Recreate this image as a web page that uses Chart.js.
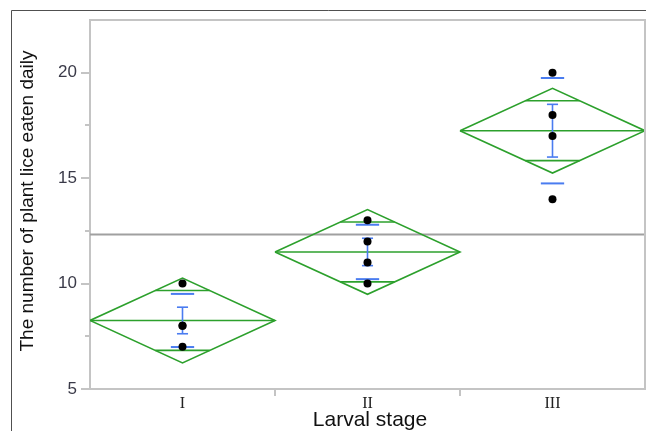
<!DOCTYPE html>
<html>
<head>
<meta charset="utf-8">
<script src="https://cdn.jsdelivr.net/npm/chart.js@4.4.1/dist/chart.umd.min.js"></script>
<style>
  html, body { margin: 0; padding: 0; background: #ffffff; }
  #wrap { width: 646px; height: 431px; position: relative; }
</style>
</head>
<body>
<div id="wrap"><canvas id="c" width="646" height="431"></canvas></div>
<script>
// ---- data ----
const categories = ['I', 'II', 'III'];
const stageI = [10, 8, 8, 7];
const stageII = [13, 12, 11, 10];
const stageIII = [20, 18, 17, 14];
const groupMeans = [8.25, 11.5, 17.25];
const ciHalfWidth = [2.01, 2.01, 2.01];      // means diamond half height
const overlapHalf = [1.42, 1.42, 1.42];      // overlap marks offset from mean
const stdDevs = [1.26, 1.29, 2.5];           // std dev lines
const stdErrs = [0.63, 0.65, 1.25];          // mean error bars
const grandMean = 12.33;
const yMajorTicks = [5, 10, 15, 20];
const yMinorTicks = [7.5, 12.5, 17.5];
const yMin = 5, yMax = 22.5;

const groups = [stageI, stageII, stageIII];
const GREEN = 'rgb(44,160,44)';
const BLUE = 'rgb(74,124,240)';
const GRAY = 'rgb(160,160,160)';
const AXIS = 'rgb(196,196,196)';

const datasets = [];
function seg(pts, color, width, order) {
  datasets.push({
    type: 'scatter',
    data: pts.map(p => ({ x: p[0], y: p[1] })),
    showLine: true, borderColor: color, borderWidth: width,
    pointRadius: 0, pointHoverRadius: 0, fill: false, tension: 0,
    order: order
  });
}

// grand mean line
seg([[0, grandMean], [3, grandMean]], GRAY, 2, 4);

groups.forEach((vals, i) => {
  const c = i + 0.5, m = groupMeans[i], h = ciHalfWidth[i], o = overlapHalf[i];
  // diamond
  seg([[i, m], [c, m + h], [i + 1, m], [c, m - h], [i, m]], GREEN, 1.6, 3);
  // mean line
  seg([[i, m], [i + 1, m]], GREEN, 1.6, 3);
  // overlap marks
  const w = 0.5 * (1 - o / h);
  seg([[c - w, m + o], [c + w, m + o]], GREEN, 1.6, 3);
  seg([[c - w, m - o], [c + w, m - o]], GREEN, 1.6, 3);
  // std dev lines
  const sw = 0.063;
  seg([[c - sw, m + stdDevs[i]], [c + sw, m + stdDevs[i]]], BLUE, 2, 2);
  seg([[c - sw, m - stdDevs[i]], [c + sw, m - stdDevs[i]]], BLUE, 2, 2);
  // error bar
  const cw = 0.03, se = stdErrs[i];
  seg([[c, m - se], [c, m + se]], BLUE, 1.6, 2);
  seg([[c - cw, m + se], [c + cw, m + se]], BLUE, 1.6, 2);
  seg([[c - cw, m - se], [c + cw, m - se]], BLUE, 1.6, 2);
});

// data points
const pts = [];
groups.forEach((vals, i) => vals.forEach(v => pts.push({ x: i + 0.5, y: v })));
datasets.push({
  type: 'scatter', data: pts, showLine: false,
  pointRadius: 4, pointBackgroundColor: '#000', pointBorderColor: '#000',
  pointBorderWidth: 0, order: 0
});

const deco = {
  id: 'deco',
  beforeDraw(chart) {
    const ctx = chart.ctx;
    ctx.save();
    ctx.fillStyle = '#fff';
    ctx.fillRect(0, 0, chart.width, chart.height);
    ctx.restore();
  },
  afterDraw(chart) {
    const ctx = chart.ctx, a = chart.chartArea;
    const ys = chart.scales.y, xs = chart.scales.x;
    ctx.save();
    // outer frame
    ctx.strokeStyle = 'rgb(80,80,80)';
    ctx.lineWidth = 1;
    ctx.beginPath();
    ctx.moveTo(11.5, chart.height);
    ctx.lineTo(11.5, 10.5);
    ctx.lineTo(chart.width, 10.5);
    ctx.stroke();
    // plot top / right border
    ctx.strokeStyle = AXIS;
    ctx.lineWidth = 2;
    ctx.beginPath();
    ctx.moveTo(a.left, a.top);
    ctx.lineTo(a.right, a.top);
    ctx.lineTo(a.right, a.bottom);
    ctx.stroke();
    // y tick marks
    ctx.lineWidth = 2;
    yMajorTicks.forEach(v => {
      const y = Math.round(ys.getPixelForValue(v));
      ctx.beginPath(); ctx.moveTo(a.left - 9, y); ctx.lineTo(a.left, y); ctx.stroke();
    });
    yMinorTicks.forEach(v => {
      const y = Math.round(ys.getPixelForValue(v));
      ctx.beginPath(); ctx.moveTo(a.left - 5, y); ctx.lineTo(a.left, y); ctx.stroke();
    });
    // x tick marks at category boundaries
    [1, 2].forEach(v => {
      const x = Math.round(xs.getPixelForValue(v));
      ctx.beginPath(); ctx.moveTo(x, a.bottom); ctx.lineTo(x, a.bottom + 7); ctx.stroke();
    });
    // axis titles
    ctx.fillStyle = '#111';
    ctx.font = '21px "Liberation Sans", Arial, sans-serif';
    ctx.textAlign = 'center';
    ctx.textBaseline = 'alphabetic';
    ctx.fillText('Larval stage', 370, 426);
    ctx.translate(33, 201);
    ctx.rotate(-Math.PI / 2);
    ctx.font = '19px "Liberation Sans", Arial, sans-serif';
    ctx.fillText('The number of plant lice eaten daily', 0, 0);
    ctx.restore();
  }
};

new Chart(document.getElementById('c'), {
  type: 'scatter',
  data: { datasets },
  options: {
    responsive: false,
    animation: false,
    events: [],
    layout: { autoPadding: false, padding: { left: 0, right: 1, top: 20, bottom: 0 } },
    plugins: { legend: { display: false }, tooltip: { enabled: false } },
    scales: {
      x: {
        type: 'linear', min: 0, max: 3,
        afterBuildTicks: s => { s.ticks = categories.map((c, i) => ({ value: i + 0.5 })); },
        afterFit: s => { s.height = 42; s.paddingLeft = 0; s.paddingRight = 0; },
        grid: { display: false, drawTicks: false },
        border: { display: true, color: AXIS, width: 2 },
        ticks: {
          autoSkip: false, maxRotation: 0, padding: 5,
          color: '#222',
          font: { family: '"Liberation Serif", "Times New Roman", serif', size: 16 },
          callback: v => categories[Math.round(v - 0.5)]
        }
      },
      y: {
        type: 'linear', min: yMin, max: yMax,
        afterBuildTicks: s => { s.ticks = yMajorTicks.map(v => ({ value: v })); },
        afterFit: s => { s.width = 90; s.paddingTop = 0; s.paddingBottom = 0; },
        grid: { display: false, drawTicks: false },
        border: { display: true, color: AXIS, width: 2 },
        ticks: {
          padding: 13, color: '#3a3a48',
          font: { family: '"Liberation Sans", Arial, sans-serif', size: 17 }
        }
      }
    }
  },
  plugins: [deco]
});
</script>
</body>
</html>
